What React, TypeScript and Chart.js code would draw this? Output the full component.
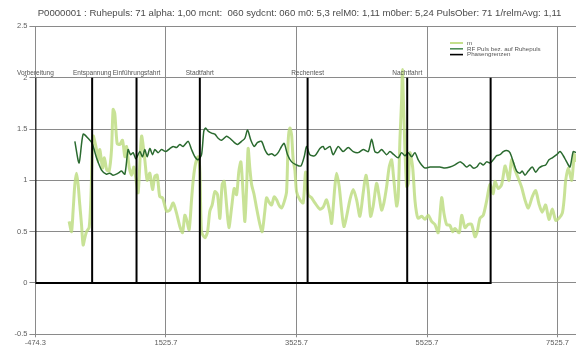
import React, { useEffect, useRef } from "react";
import { Chart, registerables } from "chart.js";

Chart.register(...registerables);

const titleText =
  "P0000001 : Ruhepuls: 71 alpha: 1,00 mcnt:  060 sydcnt: 060 m0: 5,3 relM0: 1,11 m0ber: 5,24 PulsOber: 71 1/relmAvg: 1,11";

// x axis range and tick positions
const xMin = -474.3;
const xMax = 7808;
const xTicks = [-474.3, 1525.7, 3525.7, 5525.7, 7525.7];

// phase boundaries and names
const phaseBounds = [-474.3, 395, 1075, 2045, 3696, 5222, 6500];
const phaseNames = ["Vorbereitung", "Entspannung", "Einführungsfahrt", "Stadtfahrt", "Rechentest", "Nachtfahrt", ""];
const phaseTop = 2;

// series "m"
const mX = [
  42, 79, 103, 130, 156, 180, 206, 232, 257, 283, 309, 349, 375, 410, 462, 487, 513, 554, 582, 620, 655, 692,
  716, 742, 778, 819, 860, 896, 922, 962, 998, 1034, 1064, 1100, 1152, 1202, 1238, 1279, 1320, 1356, 1391, 1431,
  1474, 1535, 1585, 1636, 1688, 1739, 1780, 1815, 1841, 1881, 1918, 1943, 1969, 1995, 2019, 2045, 2071, 2122,
  2163, 2198, 2234, 2275, 2316, 2352, 2387, 2418, 2454, 2490, 2531, 2571, 2608, 2643, 2674, 2709, 2735, 2761,
  2785, 2811, 2838, 2877, 2914, 2965, 3000, 3041, 3067, 3103, 3144, 3184, 3221, 3256, 3297, 3337, 3374, 3399,
  3425, 3451, 3475, 3501, 3527, 3578, 3628, 3665, 3705, 3757, 3808, 3884, 3935, 3987, 4038, 4064, 4114, 4140,
  4180, 4217, 4252, 4294, 4344, 4395, 4447, 4497, 4548, 4589, 4625, 4661, 4701, 4753, 4793, 4830, 4865, 4907,
  4946, 4983, 5018, 5060, 5084, 5110, 5136, 5149, 5164, 5187, 5213, 5238, 5264, 5305, 5340, 5366, 5391, 5443,
  5494, 5544, 5596, 5647, 5697, 5750, 5785, 5826, 5877, 5918, 5953, 6019, 6056, 6107, 6157, 6209, 6260, 6295,
  6337, 6387, 6439, 6490, 6540, 6566, 6617, 6669, 6720, 6746, 6781, 6822, 6873, 6924, 6976, 7026, 7077, 7138,
  7190, 7241, 7291, 7343, 7394, 7445, 7497, 7547, 7598, 7628, 7650, 7690, 7742, 7782, 7808,
];
const mY = [
  0.6, 0.5, 0.7, 0.96, 1.07, 0.96, 0.76, 0.57, 0.37, 0.44, 0.5, 0.54, 0.81, 1.43, 1.3, 1.18, 1.3, 1.12, 1.22,
  1.1, 1.09, 1.3, 1.69, 1.65, 1.36, 1.35, 1.39, 1.23, 1.33, 1.13, 1.05, 1.13, 1.02, 0.88, 1.43, 1.2, 1.0, 1.07,
  0.91, 1.04, 1.05, 0.84, 0.83, 0.7, 0.71, 0.78, 0.68, 0.55, 0.49, 0.66, 0.62, 0.52, 0.81, 1.0, 1.13, 1.2, 1.23,
  1.1, 0.5, 0.44, 0.5, 0.7, 0.76, 0.89, 0.86, 0.63, 0.96, 0.99, 0.76, 0.54, 0.73, 0.92, 0.86, 1.09, 1.18, 0.86,
  0.6, 0.92, 1.31, 1.12, 0.96, 0.86, 0.73, 0.57, 0.5, 0.7, 0.83, 0.79, 0.76, 0.84, 0.81, 0.76, 0.73, 0.79, 0.89,
  1.39, 1.51, 1.44, 1.2, 1.1, 0.89, 0.81, 0.78, 1.08, 0.86, 0.83, 0.78, 0.72, 0.74, 0.81, 0.68, 0.58, 0.94, 1.07,
  0.94, 0.71, 0.55, 0.65, 0.81, 0.91, 0.81, 0.65, 0.88, 1.05, 0.91, 0.65, 0.75, 0.97, 0.84, 0.71, 0.78, 0.94,
  1.13, 1.2, 1.0, 0.75, 0.84, 1.39, 1.78, 2.08, 1.78, 1.3, 0.94, 0.97, 1.27, 1.13, 0.81, 0.68, 0.63, 0.65, 0.62,
  0.66, 0.6, 0.57, 0.49, 0.83, 0.68, 0.57, 0.56, 0.5, 0.53, 0.49, 0.66, 0.54, 0.57, 0.57, 0.45, 0.5, 0.63, 0.66,
  0.8, 0.96, 0.87, 0.99, 0.92, 0.96, 1.14, 1.09, 1.0, 1.2, 1.1, 1.02, 0.93, 0.81, 0.73, 0.84, 0.9, 0.77, 0.69,
  0.76, 0.62, 0.72, 0.61, 0.63, 0.68, 0.83, 1.0, 1.12, 1.0, 1.25, 1.18,
];

// series "RF Puls bez. auf Ruhepuls"
const rfX = [
  130, 195, 257, 333, 395, 462, 539, 615, 666, 716, 793, 845, 896, 946, 983, 1023, 1064, 1126, 1167, 1202, 1238,
  1279, 1320, 1356, 1406, 1458, 1524, 1585, 1636, 1688, 1739, 1789, 1866, 1918, 1969, 2019, 2071, 2106, 2133,
  2172, 2225, 2275, 2326, 2378, 2454, 2505, 2571, 2623, 2684, 2735, 2776, 2827, 2877, 2930, 2991, 3041, 3092,
  3144, 3195, 3245, 3297, 3337, 3389, 3451, 3527, 3593, 3644, 3680, 3731, 3808, 3884, 3935, 3961, 4038, 4088,
  4165, 4241, 4318, 4395, 4471, 4548, 4625, 4677, 4727, 4778, 4830, 4907, 4957, 5018, 5084, 5136, 5187, 5238,
  5290, 5340, 5391, 5443, 5494, 5570, 5647, 5723, 5800, 5877, 5953, 6030, 6081, 6133, 6183, 6234, 6286, 6337,
  6387, 6439, 6490, 6540, 6592, 6643, 6694, 6746, 6796, 6847, 6899, 6950, 6985, 7026, 7077, 7138, 7190, 7241,
  7291, 7343, 7394, 7445, 7512, 7563, 7613, 7665, 7716, 7766, 7808,
];
const rfY = [
  1.38, 1.17, 1.45, 1.41, 1.36, 1.22, 1.1, 1.06, 1.07, 1.05, 1.07, 1.09, 1.06, 1.3, 1.25, 1.27, 1.21, 1.28, 1.23,
  1.3, 1.23, 1.31, 1.25, 1.3, 1.27, 1.3, 1.28, 1.31, 1.33, 1.32, 1.35, 1.33, 1.38, 1.3, 1.23, 1.2, 1.25, 1.48,
  1.51, 1.48, 1.46, 1.45, 1.41, 1.39, 1.43, 1.41, 1.37, 1.35, 1.38, 1.41, 1.49, 1.39, 1.33, 1.37, 1.38, 1.3, 1.25,
  1.26, 1.24, 1.27, 1.33, 1.36, 1.25, 1.18, 1.15, 1.14, 1.23, 1.33, 1.25, 1.24, 1.31, 1.33, 1.3, 1.33, 1.25, 1.33,
  1.28, 1.32, 1.28, 1.27, 1.3, 1.28, 1.4, 1.28, 1.27, 1.3, 1.25, 1.28, 1.25, 1.22, 1.27, 1.24, 1.27, 1.23, 1.27,
  1.2, 1.15, 1.12, 1.13, 1.13, 1.13, 1.12, 1.13, 1.15, 1.18, 1.16, 1.13, 1.15, 1.12, 1.13, 1.17, 1.15, 1.18, 1.17,
  1.2, 1.24, 1.25, 1.28, 1.29, 1.27, 1.18, 1.09, 1.07, 1.09, 1.05, 1.09, 1.13, 1.08, 1.12, 1.14, 1.15, 1.2, 1.22,
  1.25, 1.28, 1.24, 1.18, 1.13, 1.28, 1.27,
];

const mColor = "rgba(186, 219, 124, 0.8)";
const rfColor = "#2a6a2f";
const phaseColor = "#000000";
const gridColor = "#8a8a8a";
const tickColor = "#5e5e5e";
const fontFamily = "'Liberation Sans', Arial, sans-serif";

function phasePath() {
  const pts: { x: number; y: number }[] = [];
  phaseBounds.forEach((b) => {
    pts.push({ x: b, y: 0 });
    pts.push({ x: b, y: phaseTop });
    pts.push({ x: b, y: 0 });
  });
  return pts;
}

const overlayPlugin = {
  id: "overlay",
  afterDraw(chart: any) {
    const { ctx, scales } = chart;
    const xs = scales.x;
    const ys = scales.y;
    ctx.save();
    // title
    ctx.fillStyle = "#4a4a4a";
    ctx.font = `9.6px ${fontFamily}`;
    ctx.textAlign = "center";
    ctx.textBaseline = "middle";
    ctx.fillText(titleText, 299.5, 13);

    // phase names above the boundaries
    ctx.font = `6.5px ${fontFamily}`;
    ctx.fillStyle = "#555555";
    ctx.textBaseline = "alphabetic";
    const yTop = ys.getPixelForValue(phaseTop);
    phaseBounds.forEach((b, i) => {
      if (!phaseNames[i]) return;
      ctx.fillText(phaseNames[i], xs.getPixelForValue(b), yTop - 3);
    });

    // legend
    const items = chart.data.datasets;
    const lx = 450;
    let ly = 43;
    ctx.textAlign = "left";
    ctx.textBaseline = "middle";
    ctx.font = `6.2px ${fontFamily}`;
    items.forEach((ds: any) => {
      ctx.strokeStyle = ds.legendColor || ds.borderColor;
      ctx.lineWidth = 1.6;
      ctx.beginPath();
      ctx.moveTo(lx, ly);
      ctx.lineTo(lx + 13, ly);
      ctx.stroke();
      ctx.fillStyle = "#555555";
      ctx.fillText(ds.label, lx + 17, ly);
      ly += 5.8;
    });
    ctx.restore();
  },
};

export default function App() {
  const canvasRef = useRef<HTMLCanvasElement | null>(null);

  useEffect(() => {
    const canvas = canvasRef.current;
    if (!canvas) return;
    const chart = new Chart(canvas, {
      type: "line",
      data: {
        datasets: [
          {
            label: "m",
            data: mX.map((x, i) => ({ x, y: mY[i] })),
            borderColor: mColor,
            legendColor: "#b6d96f",
            borderWidth: 3,
            pointRadius: 0,
            tension: 0.25,
            order: 3,
          } as any,
          {
            label: "RF Puls bez. auf Ruhepuls",
            data: rfX.map((x, i) => ({ x, y: rfY[i] })),
            borderColor: rfColor,
            legendColor: "#4e8e58",
            borderWidth: 1.5,
            pointRadius: 0,
            tension: 0.25,
            order: 2,
          } as any,
          {
            label: "Phasengrenzen",
            data: phasePath(),
            borderColor: phaseColor,
            borderWidth: 2,
            pointRadius: 0,
            tension: 0,
            order: 1,
          } as any,
        ],
      },
      options: {
        animation: false,
        responsive: false,
        devicePixelRatio: 1,
        layout: { padding: { top: 26.4, right: 0, bottom: 0, left: 0 } },
        plugins: {
          legend: { display: false },
          title: { display: false },
          tooltip: { enabled: false },
        },
        scales: {
          x: {
            type: "linear",
            min: xMin,
            max: xMax,
            afterBuildTicks: (scale: any) => {
              scale.ticks = xTicks.map((v) => ({ value: v }));
            },
            afterFit: (scale: any) => {
              scale.height = 12.7;
            },
            ticks: {
              autoSkip: false,
              maxRotation: 0,
              padding: 1,
              color: tickColor,
              font: { family: fontFamily, size: 7.5 },
              callback: (v: any) => Number(v).toFixed(1),
            },
            grid: { color: gridColor, lineWidth: 1, tickLength: 3 },
            border: { color: gridColor },
          },
          y: {
            min: -0.5,
            max: 2.5,
            afterFit: (scale: any) => {
              scale.width = 35.4;
            },
            ticks: {
              stepSize: 0.5,
              padding: 2,
              color: tickColor,
              font: { family: fontFamily, size: 7.5 },
              callback: (v: any) => String(Math.round(Number(v) * 10) / 10),
            },
            grid: { color: gridColor, lineWidth: 1, tickLength: 6 },
            border: { color: gridColor },
          },
        },
      } as any,
      plugins: [overlayPlugin],
    });
    return () => chart.destroy();
  }, []);

  return (
    <div style={{ position: "fixed", left: 0, top: 0, width: 576, height: 347, background: "#ffffff" }}>
      <canvas ref={canvasRef} width={576} height={347} style={{ display: "block" }} />
    </div>
  );
}
